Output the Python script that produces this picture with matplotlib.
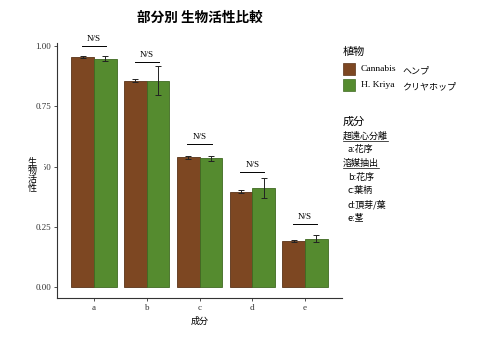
import numpy as np
import matplotlib
matplotlib.use("Agg")
import matplotlib.pyplot as plt
from matplotlib.patches import Rectangle

plt.rcParams['font.family'] = ['Noto Sans CJK JP', 'DejaVu Sans']

parts = ['a', 'b', 'c', 'd', 'e']
cannabis = [0.954, 0.857, 0.538, 0.395, 0.192]
cannabis_err = [0.005, 0.007, 0.006, 0.007, 0.004]
kriya = [0.947, 0.857, 0.535, 0.412, 0.200]
kriya_err = [0.010, 0.059, 0.010, 0.041, 0.015]
ns_height = [1.0, 0.934, 0.593, 0.477, 0.261]

brown = '#7d4722'
green = '#558b2f'
serif = 'Liberation Serif'

W, H = 479, 338
fig = plt.figure(figsize=(W / 100, H / 100), dpi=100)

def fx(x):
    return x / W

def fy(y):
    return 1 - y / H

ax = fig.add_axes([fx(57), fy(298), fx(342) - fx(57), fy(43) - fy(298)])

x = np.arange(1, len(parts) + 1)
bw = 0.43
ax.bar(x - bw / 2, cannabis, bw, color=brown, edgecolor='#5a3318', linewidth=0.6)
ax.bar(x + bw / 2, kriya, bw, color=green, edgecolor='#3f6a22', linewidth=0.6)
ax.errorbar(x - bw / 2, cannabis, yerr=cannabis_err, fmt='none', ecolor='#222222',
            elinewidth=0.7, capsize=2.5, capthick=0.7)
ax.errorbar(x + bw / 2, kriya, yerr=kriya_err, fmt='none', ecolor='#222222',
            elinewidth=0.7, capsize=2.5, capthick=0.7)

# significance marks
for xi, h in zip(x, ns_height):
    ax.plot([xi - 0.23, xi + 0.23], [h, h], color='black', lw=0.7)
    ax.text(xi, h + 0.012, 'N/S', ha='center', va='bottom', fontsize=6.5,
            family=serif)

ax.set_xlim(0.3, 5.7)
ax.set_ylim(-0.046, 1.013)
ax.set_xticks(x)
ax.set_xticklabels(parts, family=serif, fontsize=6.5)
ax.set_yticks([0, 0.25, 0.5, 0.75, 1.0])
ax.set_yticklabels(['0.00', '0.25', '0.50', '0.75', '1.00'], family=serif, fontsize=6.5)
ax.tick_params(length=2, width=0.6, colors='#333333', pad=2)
for s in ['top', 'right']:
    ax.spines[s].set_visible(False)
for s in ['left', 'bottom']:
    ax.spines[s].set_color('#333333')
    ax.spines[s].set_linewidth(0.8)

fig.text(fx(200), fy(18), '部分別 生物活性比較', ha='center', va='center',
         fontsize=9.8, fontweight='bold')
# y title sits on a white box that hides part of the 0.50 label
fig.patches.append(Rectangle((fx(27), fy(193)), fx(43.5) - fx(27), fy(158) - fy(193),
                             transform=fig.transFigure, facecolor='white',
                             edgecolor='none'))
fig.text(fx(32), fy(175), '生\n物\n活\n性', ha='center', va='center',
         fontsize=6.5, linespacing=1.0)
fig.text(fx(200), fy(321), '成分', ha='center', va='center', fontsize=6.5)

# legend: plants
fig.text(fx(343), fy(52), '植物', ha='left', va='center', fontsize=8)
for yy, col, ec, name, kana in [(69, brown, '#5a3318', 'Cannabis', 'ヘンプ'),
                                (85, green, '#3f6a22', 'H. Kriya', 'クリヤホップ')]:
    fig.patches.append(Rectangle((fx(343), fy(yy + 6)), fx(12), fy(0) - fy(12),
                                 transform=fig.transFigure, facecolor=col,
                                 edgecolor=ec, linewidth=0.5))
    fig.text(fx(361), fy(yy), name, ha='left', va='center', fontsize=6.8, family=serif)
    fig.text(fx(402), fy(yy + 2), kana, ha='left', va='center', fontsize=6.5)

# legend: parts
fig.text(fx(343), fy(122), '成分', ha='left', va='center', fontsize=8)
part_lines = [('超遠心分離', 343, True), ('a:花序', 348, False),
              ('溶媒抽出', 343, True), ('b:花序', 348, False),
              ('c:葉柄', 348, False), ('d:頂芽/葉', 348, False),
              ('e:茎', 348, False)]
for i, (txt, xx, ul) in enumerate(part_lines):
    yy = 136 + i * 13.7
    t = fig.text(fx(xx), fy(yy), txt, ha='left', va='center', fontsize=6.5)
    if ul:
        fig.canvas.draw()
        bb = t.get_window_extent()
        fig.add_artist(plt.Line2D([bb.x0 / W, bb.x1 / W], [fy(yy + 5), fy(yy + 5)],
                                  transform=fig.transFigure, color='black', lw=0.5))

fig.savefig('out.png', dpi=100, facecolor='white')
